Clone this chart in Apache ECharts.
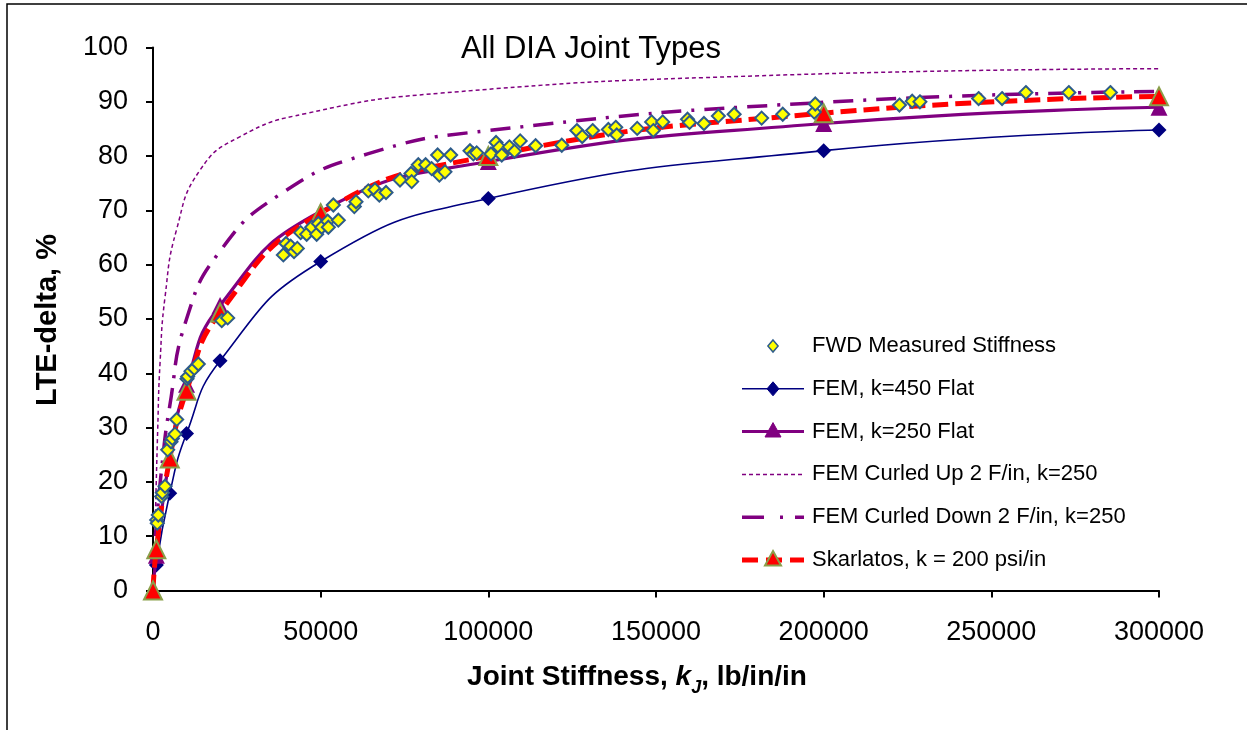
<!DOCTYPE html>
<html>
<head>
<meta charset="utf-8">
<script src="https://cdn.jsdelivr.net/npm/echarts@6/dist/echarts.min.js"></script>
<style>
  html, body { margin: 0; padding: 0; background: #fff; }
  #chart { width: 1247px; height: 730px; }
</style>
</head>
<body>
<div id="chart"></div>
<script>
// LTE-delta vs joint stiffness for all DIA joint types

// FWD measured stiffness points [kJ, LTE %]
const fwdMeasured = [
  [1100, 13], [1280, 12.4], [1580, 13.9], [2580, 17.3], [2780, 18], [3580, 19.2],
  [4380, 25.9], [5370, 27.4], [5760, 28], [6560, 28.8], [7060, 31.5],
  [10140, 39], [10340, 39.4], [11330, 40.4], [12320, 40.9], [13510, 41.7],
  [20500, 49.7], [22270, 50.2],
  [38870, 61.8], [39670, 63.9], [41060, 63.4], [42050, 62.4], [43040, 63],
  [44040, 65.9], [45830, 65.6], [47320, 66.9], [48810, 65.6], [49310, 67.6],
  [50310, 66.9], [52100, 68], [52290, 66.9], [53780, 71], [55270, 68.2],
  [60040, 70.7], [60540, 71.6], [64210, 73.6], [66200, 73.8], [67490, 72.8],
  [69490, 73.3], [73660, 75.6], [76940, 76.8], [77140, 75.3], [79120, 78.4],
  [81300, 78.4], [83100, 77.7], [84880, 80.2], [85400, 76.5], [87070, 77.1],
  [88770, 80.2], [94530, 81], [95540, 80.4], [96530, 80.6], [100800, 80.4],
  [102300, 82.5], [103300, 81.6], [104000, 80.2], [106300, 81.7], [107800, 80.9],
  [109500, 82.8], [114100, 81.9], [121900, 82], [126400, 84.7], [128000, 83.6],
  [131100, 84.7], [135800, 84.9], [138000, 85.3], [138300, 83.9], [144400, 85.1],
  [148700, 86.3], [149200, 84.7], [152000, 86.3], [159400, 86.8], [160000, 86.2],
  [164300, 86], [168600, 87.4], [173300, 87.7], [181500, 87], [187800, 87.7],
  [197200, 88.1], [197500, 89.6], [222600, 89.4], [226400, 90.1], [228700, 90],
  [246200, 90.6], [253200, 90.6], [260300, 91.7], [273100, 91.7], [285500, 91.7]
];

// FEM results, flat slab
const fem450Flat = [
  [1000, 4.7], [5000, 17.9], [10000, 28.9], [20000, 42.3], [50000, 60.6],
  [100000, 72.2], [200000, 81], [300000, 84.8]
];
const fem250Flat = [
  [0, 0], [1000, 6.5], [5000, 24.5], [10000, 38], [20000, 52.5], [50000, 69.8],
  [100000, 79], [200000, 86], [300000, 89]
];

// FEM results, curled slab
const femCurledUp = [
  [700, 13], [1400, 29.6], [2100, 41.9], [3600, 54.1], [7000, 66.4],
  [14000, 77.4], [26000, 83.6], [46000, 87.9], [86000, 91.6], [181000, 94.8],
  [300000, 96.1]
];
const femCurledDown = [
  [700, 10], [2500, 22], [5000, 34], [10000, 50], [20000, 62.5], [38000, 73],
  [64000, 80.4], [100000, 84.7], [200000, 89.9], [300000, 91.9]
];

// Skarlatos model, k = 200 psi/in
const skarlatos = [
  [0, 0], [1000, 7.6], [5000, 24.3], [10000, 36.8], [20000, 51.2], [50000, 69.5],
  [100000, 80], [200000, 87.9], [300000, 91]
];

const xTicks = [0, 50000, 100000, 150000, 200000, 250000, 300000];
const yTicks = [0, 10, 20, 30, 40, 50, 60, 70, 80, 90, 100];

const legendNames = [
  'FWD Measured Stiffness',
  'FEM, k=450 Flat',
  'FEM, k=250 Flat',
  'FEM Curled Up 2 F/in, k=250',
  'FEM Curled Down 2 F/in, k=250',
  'Skarlatos, k = 200 psi/in'
];

const FONT = '"Liberation Sans", Arial, sans-serif';
const PURPLE = '#800080';
const NAVY = '#000080';
const RED = '#ff0000';
const OLIVE = '#8a9f4a';
const YELLOW = '#ffff00';
const DIAMOND_EDGE = '#2e5c8a';

// Legend drawn as graphic elements: a line sample, a marker and a label per row
function legendGraphics() {
  const x0 = 742, x1 = 804, xm = 773, xt = 812, top = 346, pitch = 42.8;
  const out = [];
  const diamond = (cx, cy, r, fill, stroke, lw) => ({
    type: 'polygon', z: 20,
    shape: { points: [[cx, cy - r], [cx + r * 0.85, cy], [cx, cy + r], [cx - r * 0.85, cy]] },
    style: { fill, stroke, lineWidth: lw }
  });
  const triangle = (cx, cy, r, fill, stroke, lw) => ({
    type: 'polygon', z: 20,
    shape: { points: [[cx, cy - r], [cx + r, cy + r * 0.8], [cx - r, cy + r * 0.8]] },
    style: { fill, stroke, lineWidth: lw }
  });
  const seg = (y, color, width, dash, offset) => ({
    type: 'line', z: 19,
    shape: { x1: x0, y1: y, x2: x1, y2: y },
    style: { stroke: color, lineWidth: width, lineDash: dash || null, lineDashOffset: offset || 0 }
  });
  legendNames.forEach((name, i) => {
    const y = top + i * pitch;
    if (i === 0) out.push(diamond(xm, y, 6, YELLOW, DIAMOND_EDGE, 1.5));
    if (i === 1) { out.push(seg(y, NAVY, 1.5)); out.push(diamond(xm, y, 7, NAVY, NAVY, 1)); }
    if (i === 2) { out.push(seg(y, PURPLE, 3)); out.push(triangle(xm, y - 1, 8, PURPLE, PURPLE, 1)); }
    if (i === 3) out.push(seg(y, PURPLE, 1.5, [4, 3]));
    if (i === 4) out.push(seg(y, PURPLE, 3.5, [22, 16, 3, 12]));
    if (i === 5) { out.push(seg(y, RED, 5, [16, 8])); out.push(triangle(xm, y - 1, 8, RED, OLIVE, 2)); }
    out.push({
      type: 'text', x: xt, y: y, z: 20,
      style: { text: name, font: '22px ' + FONT, fill: '#000', align: 'left', verticalAlign: 'middle' }
    });
  });
  return out;
}

const chart = echarts.init(document.getElementById('chart'), null, { renderer: 'canvas' });

chart.setOption({
  animation: false,
  backgroundColor: '#ffffff',
  textStyle: { fontFamily: FONT },
  grid: { left: 153, right: 88, top: 47.5, bottom: 139.5, containLabel: false },
  xAxis: {
    type: 'value',
    min: xTicks[0],
    max: xTicks[xTicks.length - 1],
    interval: xTicks[1] - xTicks[0],
    splitLine: { show: false },
    axisLine: { lineStyle: { color: '#000', width: 2 } },
    axisTick: { inside: false, length: 7, lineStyle: { color: '#000', width: 2 } },
    axisLabel: { fontSize: 27, color: '#000', margin: 29, fontFamily: FONT, formatter: v => String(v) }
  },
  yAxis: {
    type: 'value',
    min: yTicks[0],
    max: yTicks[yTicks.length - 1],
    interval: yTicks[1] - yTicks[0],
    splitLine: { show: false },
    axisLine: { show: true, lineStyle: { color: '#000', width: 2 } },
    axisTick: { show: true, inside: false, length: 7, lineStyle: { color: '#000', width: 2 } },
    axisLabel: { fontSize: 27, color: '#000', margin: 25, fontFamily: FONT, formatter: v => String(v) }
  },
  graphic: [
    {
      type: 'rect', silent: true, z: 0,
      shape: { x: 7, y: 4, width: 1300, height: 800 },
      style: { fill: 'none', stroke: '#000', lineWidth: 1.5 }
    },
    {
      type: 'text', x: 591, y: 49, z: 10,
      style: {
        text: 'All DIA Joint Types', font: '31px ' + FONT, fill: '#000',
        align: 'center', verticalAlign: 'middle'
      }
    },
    {
      type: 'text', x: 48, y: 320, rotation: Math.PI / 2, z: 10,
      style: {
        text: 'LTE-delta, %', font: 'bold 29px ' + FONT, fill: '#000',
        align: 'center', verticalAlign: 'middle'
      }
    },
    {
      type: 'text', x: 637, y: 677, z: 10,
      style: {
        text: '{b|Joint Stiffness, }{i|k}{s|J}{b|, lb/in/in}',
        align: 'center', verticalAlign: 'middle',
        rich: {
          b: { font: 'bold 28px ' + FONT, fill: '#000', verticalAlign: 'bottom' },
          i: { font: 'italic bold 28px ' + FONT, fill: '#000', verticalAlign: 'bottom' },
          s: { font: 'italic bold 18px ' + FONT, fill: '#000', verticalAlign: 'bottom', padding: [0, 0, -6, 0] }
        }
      }
    }
  ].concat(legendGraphics()),
  series: [
    {
      name: 'FEM, k=450 Flat',
      type: 'line',
      data: fem450Flat,
      smooth: 0.5,
      symbol: 'diamond',
      symbolSize: 15,
      showAllSymbol: true,
      lineStyle: { color: NAVY, width: 1.6 },
      itemStyle: { color: NAVY },
      z: 2
    },
    {
      name: 'FEM, k=250 Flat',
      type: 'line',
      data: fem250Flat,
      smooth: 0.5,
      symbol: 'triangle',
      symbolSize: 17,
      lineStyle: { color: PURPLE, width: 3.2 },
      itemStyle: { color: PURPLE },
      z: 3
    },
    {
      name: 'FEM Curled Up 2 F/in, k=250',
      type: 'line',
      data: femCurledUp,
      smooth: 0.5,
      symbol: 'none',
      lineStyle: { color: PURPLE, width: 1.5, type: [4, 3] },
      z: 4
    },
    {
      name: 'FEM Curled Down 2 F/in, k=250',
      type: 'line',
      data: femCurledDown,
      smooth: 0.5,
      symbol: 'none',
      lineStyle: { color: PURPLE, width: 3.5, type: [20, 10, 3, 10] },
      z: 5
    },
    {
      name: 'Skarlatos, k = 200 psi/in',
      type: 'line',
      data: skarlatos,
      smooth: 0.5,
      symbol: 'triangle',
      symbolSize: 18,
      lineStyle: { color: RED, width: 5, type: [16, 7] },
      itemStyle: { color: RED, borderColor: OLIVE, borderWidth: 2 },
      z: 6
    },
    {
      name: 'FWD Measured Stiffness',
      type: 'scatter',
      data: fwdMeasured,
      symbol: 'diamond',
      symbolSize: 13,
      itemStyle: { color: YELLOW, borderColor: DIAMOND_EDGE, borderWidth: 2, opacity: 1 },
      z: 7
    }
  ]
});
</script>
</body>
</html>
